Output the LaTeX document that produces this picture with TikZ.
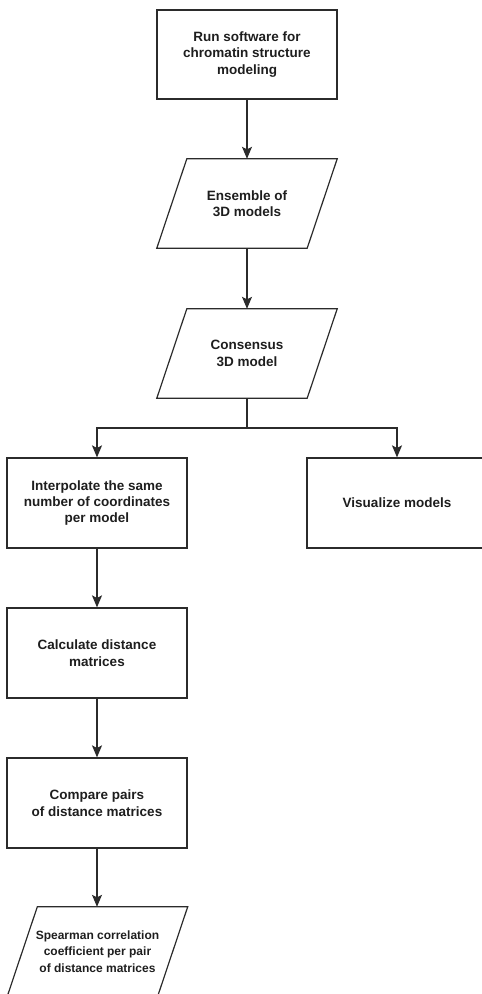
\documentclass[tikz,border=0pt]{standalone}
\usepackage{fontspec}
\setmainfont{Liberation Sans}
\usetikzlibrary{arrows.meta}
\definecolor{linec}{HTML}{2B2B2B}
\definecolor{textc}{HTML}{1E1E1E}
\tikzset{
  every node/.style={font=\fontsize{13.5}{16.4}\selectfont\bfseries, text=textc, align=center},
  procbox/.style={draw=linec, line width=1.2pt, minimum width=180pt, minimum height=89pt, inner sep=0pt},
  parabox/.style={minimum width=180pt, minimum height=89pt, inner sep=0pt},
  paraline/.style={draw=linec, line width=1.2pt, line join=miter},
  conn/.style={draw=linec, line width=1.2pt, -{Stealth[length=12pt,width=10pt,inset=2.5pt]}},
  plain/.style={draw=linec, line width=1.2pt}
}
\begin{document}
\begin{tikzpicture}[x=1pt,y=-1pt]
\useasboundingbox (0,0) rectangle (482,994);
\node[procbox] (run) at (247,54.5) {Run software for\\chromatin structure\\modeling};
\node[parabox] (ens) at (247,203.5) {Ensemble of\\3D models};
\node[parabox] (cons) at (247,353.5) {Consensus\\3D model};
\node[procbox, minimum height=90pt] (interp) at (97,503) {Interpolate the same\\number of coordinates\\per model};
\node[procbox, minimum height=90pt] (vis) at (397,503) {Visualize models};
\node[procbox, minimum height=90pt] (calc) at (97,653) {Calculate distance\\matrices};
\node[procbox, minimum height=90pt] (comp) at (97,803) {Compare pairs\\of distance matrices};
\node[parabox, font=\fontsize{12}{16.4}\selectfont\bfseries] (spear) at (97.5,951.5) {Spearman correlation\\coefficient per pair\\of distance matrices};
\coordinate (split) at (247,428);
% parallelogram outlines
\foreach \n in {ens,cons,spear}{
  \draw[paraline] ([xshift=30pt]\n.north west) -- (\n.north east) -- ([xshift=-30pt]\n.south east) -- (\n.south west) -- cycle;
}
% connectors
\draw[conn] (run.south) -- (ens.north);
\draw[conn] (ens.south) -- (cons.north);
\draw[plain] (cons.south) -- (split);
\draw[conn] (split) -| (interp.north);
\draw[conn] (split) -| (vis.north);
\draw[conn] (interp.south) -- (calc.north);
\draw[conn] (calc.south) -- (comp.north);
\draw[conn] (comp.south) -- (comp.south |- spear.north);
\end{tikzpicture}
\end{document}
